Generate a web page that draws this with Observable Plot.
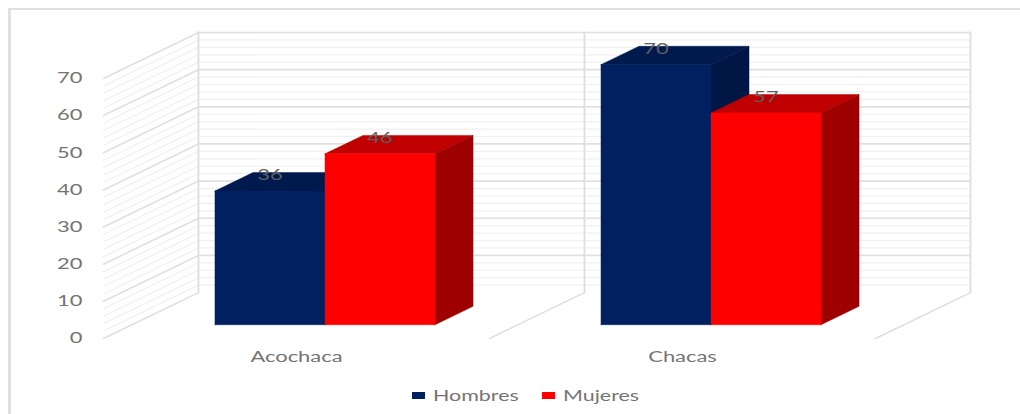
<!DOCTYPE html>
<html>
<head>
<meta charset="utf-8">
<script src="https://cdn.jsdelivr.net/npm/d3@7"></script>
<script src="https://cdn.jsdelivr.net/npm/@observablehq/plot@0.6"></script>
<style>
  html, body { margin: 0; padding: 0; background: #fff; }
  #page { position: relative; width: 1020px; height: 414px; overflow: hidden; }
  #frameTop { position: absolute; left: 8px; right: 0; top: 8px; height: 2px; background: #e0e0e0; }
  #frameLeft { position: absolute; left: 8px; top: 8px; bottom: 0; width: 3px; background: #e0e0e0; }
  #chart { position: absolute; left: 0; top: 0; }
  #chart svg { display: block; }
  .swatch { position: absolute; top: 392px; width: 13px; height: 7px; }
  .legendLabel { position: absolute; top: 385px; font: 15px Lato, sans-serif; line-height: 20px; color: #747474; transform: scaleX(1.43); transform-origin: left center; white-space: nowrap; }
</style>
</head>
<body>
<div id="page">
  <div id="frameTop"></div>
  <div id="frameLeft"></div>
  <div id="chart"></div>
</div>
<script>
const categories = ["Acochaca", "Chacas"];
const seriesNames = ["Hombres", "Mujeres"];
const hombres = [36, 70];
const mujeres = [46, 57];
const yTicks = [0, 10, 20, 30, 40, 50, 60, 70];
const yMinorTicks = d3.range(0, 71, 2).filter(v => v % 10 !== 0);

const seriesValues = [hombres, mujeres];
const frontColors = ["#002060", "#ff0000"];
const topColors = ["#001a4e", "#c00000"];
const sideColors = ["#001645", "#9e0000"];

// Oblique projection: a point (u, v, d) lands on the x/y scales at (u + d*kx, v + d*ky)
const kx = 0.246, ky = 12.37;
const proj = (u, v, d) => ({x: u + d * kx, y: v + d * ky});
const barGap = 0.215, barWidth = 0.285, depthFront = 0.3, depthBack = 0.7;
const textStretch = 1.46;

const nCat = categories.length;
const line = (pts, opts) => Plot.line(pts, {x: "x", y: "y", ...opts});

const wallLines = (vals, stroke, strokeWidth) => [
  ...vals.map(v => line([proj(0, v, 0), proj(0, v, 1)], {stroke, strokeWidth})),
  ...vals.map(v => line([proj(0, v, 1), proj(nCat, v, 1)], {stroke, strokeWidth}))
];

const structure = d3.range(0, nCat + 1).flatMap(u => [
  line([proj(u, 0, 0), proj(u, 0, 1)], {stroke: "#dedede", strokeWidth: 1.4}),
  line([proj(u, 0, 1), proj(u, 70, 1)], {stroke: "#dedede", strokeWidth: 1.8})
]);

const bars = categories.flatMap((c, i) => seriesNames.flatMap((s, j) => {
  const v = seriesValues[j][i];
  const x0 = i + barGap + j * barWidth, x1 = x0 + barWidth;
  const face = (pts, color) => line([...pts, pts[0]], {fill: color, stroke: color, strokeWidth: 0.5});
  return [
    face([proj(x0, v, depthFront), proj(x1, v, depthFront), proj(x1, v, depthBack), proj(x0, v, depthBack)], topColors[j]),
    face([proj(x1, 0, depthFront), proj(x1, v, depthFront), proj(x1, v, depthBack), proj(x1, 0, depthBack)], sideColors[j]),
    face([proj(x0, 0, depthFront), proj(x1, 0, depthFront), proj(x1, v, depthFront), proj(x0, v, depthFront)], frontColors[j])
  ];
}));

const barLabels = categories.flatMap((c, i) => seriesNames.map((s, j) => {
  const v = seriesValues[j][i];
  const cx = i + barGap + (j + 0.5) * barWidth;
  return {x: proj(cx, v, depthFront).x, y: proj(cx, v, depthBack).y, text: String(v)};
}));

const chart = Plot.plot({
  width: 1020,
  height: 378,
  marginLeft: 103,
  marginRight: 50,
  marginTop: 32,
  marginBottom: 40,
  style: {background: "none", fontFamily: "Lato, sans-serif", fontSize: "15px"},
  x: {domain: [0, nCat + kx], axis: null},
  y: {domain: [0, 70 + ky], axis: null},
  marks: [
    ...wallLines(yMinorTicks, "#f0f0f0", 1.2),
    ...wallLines(yTicks.slice(1), "#e0e0e0", 1.7),
    ...structure,
    ...bars,
    Plot.text(barLabels, {x: "x", y: "y", text: "text", fill: "#5f5f5f", fontSize: 15, dy: 3}),
    Plot.axisY({ticks: yTicks, tickSize: 0, tickPadding: 21, label: null, color: "#747474", fontSize: 15}),
    Plot.axisX({
      ticks: categories.map((c, i) => i + 0.5),
      tickFormat: u => categories[Math.floor(u)],
      tickSize: 0, tickPadding: 13, label: null, color: "#747474", fontSize: 15
    })
  ]
});

// Stretch all the text horizontally, as in the reference picture
chart.querySelectorAll("text").forEach(t => {
  const tr = t.getAttribute("transform") || "";
  t.setAttribute("transform", (tr + ` scale(${textStretch},1)`).trim());
  const x = +t.getAttribute("x") || 0;
  if (x) { t.setAttribute("x", x / textStretch); }
  t.querySelectorAll("tspan[x]").forEach(s => { const sx = +s.getAttribute("x"); if (sx) s.setAttribute("x", sx / textStretch); });
});
document.getElementById("chart").append(chart);

// Legend below the plot
const page = document.getElementById("page");
const legendX = [[412, 433], [542, 563]];
seriesNames.forEach((s, j) => {
  const sw = document.createElement("div");
  sw.className = "swatch";
  sw.style.left = legendX[j][0] + "px";
  sw.style.background = frontColors[j];
  page.append(sw);
  const lb = document.createElement("div");
  lb.className = "legendLabel";
  lb.style.left = legendX[j][1] + "px";
  lb.textContent = s;
  page.append(lb);
});
</script>
</body>
</html>
